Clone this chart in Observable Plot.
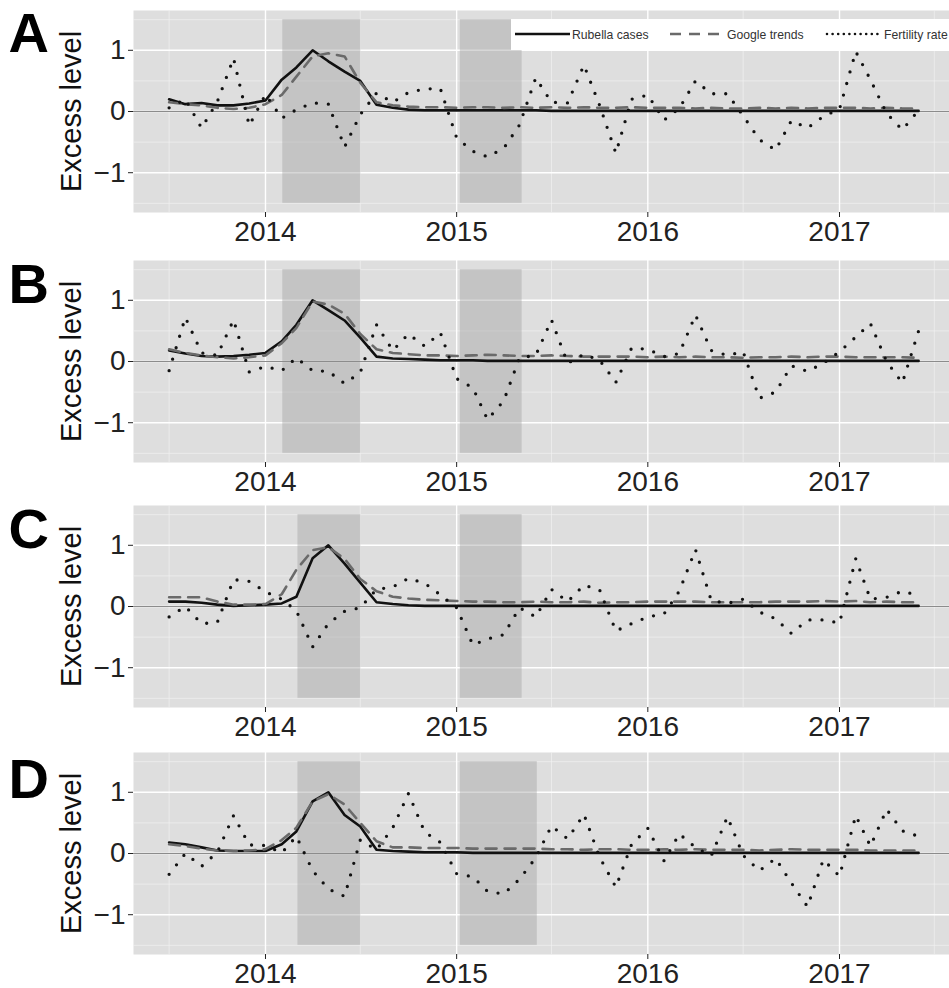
<!DOCTYPE html>
<html>
<head>
<meta charset="utf-8">
<script src="https://cdn.jsdelivr.net/npm/d3@7"></script>
<script src="https://cdn.jsdelivr.net/npm/@observablehq/plot@0.6"></script>
<style>
  html, body { margin: 0; padding: 0; background: #fff; overflow: hidden; width: 949px; height: 988px; }
  #wrap { position: relative; width: 949px; height: 988px; overflow: hidden; }
  .panel { position: absolute; left: 0; }
  #legend { position: absolute; left: 511px; top: 19px; width: 460px; height: 31px; background: #fff; }
</style>
</head>
<body>
<div id="wrap"></div>
<script>
// ---------- data ----------
const firstMonth = "2013-07-01";
const lastMonthExclusive = "2017-07-01";
const yearTicks = ["2014-01-01", "2015-01-01", "2016-01-01", "2017-01-01"];
const halfYearTicks = ["2013-07-01", "2014-07-01", "2015-07-01", "2016-07-01", "2017-07-01"];
const xDomain = ["2013-04-24", "2017-07-30"];
const yMajor = [-1, 0, 1];
const yMinor = [-1.5, -0.5, 0.5, 1.5];
const seriesNames = ["Rubella cases", "Google trends", "Fertility rate"];
const panelLabels = ["A", "B", "C", "D"];

const rubellaA = [0.20,0.12,0.14,0.10,0.10,0.13,0.18,0.52,0.72,1.00,0.82,0.65,0.50,0.11,0.06,0.03,0.02,0.02,0.02,0.02,0.02,0.02,0.02,0.02,0.01,0.01,0.01,0.01,0.01,0.01,0.01,0.01,0.01,0.01,0.01,0.01,0.01,0.01,0.01,0.01,0.01,0.01,0.01,0.01,0.01,0.01,0.01,0.01];
const googleA = [0.15,0.12,0.10,0.06,0.04,0.06,0.12,0.27,0.57,0.90,0.95,0.90,0.47,0.15,0.10,0.08,0.07,0.07,0.06,0.07,0.07,0.06,0.07,0.06,0.07,0.06,0.07,0.06,0.06,0.07,0.06,0.06,0.06,0.05,0.06,0.05,0.05,0.06,0.05,0.06,0.05,0.06,0.06,0.06,0.05,0.06,0.05,0.05];
const fertilityA = [0.06,0.20,-0.27,0.16,0.87,-0.23,0.28,-0.11,0.03,0.14,0.12,-0.58,-0.05,0.30,0.15,0.31,0.37,0.37,-0.43,-0.65,-0.74,-0.60,-0.22,0.55,0.15,0.14,0.76,0.10,-0.68,0.20,0.27,-0.14,0.05,0.50,0.29,0.29,-0.07,-0.46,-0.63,-0.15,-0.27,-0.08,0.04,0.98,0.52,-0.03,-0.30,0.02];

const rubellaB = [0.18,0.13,0.09,0.08,0.09,0.11,0.14,0.33,0.60,1.00,0.84,0.67,0.39,0.08,0.05,0.04,0.03,0.02,0.02,0.02,0.01,0.01,0.01,0.01,0.01,0.01,0.01,0.01,0.01,0.01,0.01,0.01,0.01,0.01,0.01,0.01,0.01,0.01,0.01,0.01,0.01,0.01,0.01,0.01,0.01,0.01,0.01,0.01];
const googleB = [0.20,0.14,0.10,0.07,0.05,0.07,0.10,0.30,0.55,0.98,0.93,0.78,0.45,0.20,0.14,0.12,0.10,0.10,0.09,0.10,0.11,0.10,0.09,0.09,0.10,0.09,0.08,0.08,0.08,0.08,0.07,0.08,0.07,0.08,0.07,0.07,0.06,0.07,0.07,0.08,0.07,0.08,0.08,0.07,0.07,0.07,0.07,0.06];
const fertilityB = [-0.15,0.72,0.14,0.10,0.68,-0.17,-0.08,-0.15,0.06,-0.15,-0.16,-0.36,-0.18,0.60,0.18,0.45,0.25,0.47,-0.28,-0.43,-0.95,-0.64,0.06,0.10,0.68,-0.03,0.12,0.02,-0.34,0.22,0.20,0.08,0.13,0.76,0.18,0.10,0.16,-0.60,-0.50,-0.07,-0.16,-0.03,0.16,0.40,0.62,0.00,-0.35,0.50];

const rubellaC = [0.08,0.08,0.06,0.03,0.01,0.02,0.03,0.05,0.16,0.79,1.00,0.70,0.39,0.07,0.04,0.02,0.01,0.01,0.01,0.01,0.01,0.01,0.01,0.01,0.01,0.01,0.01,0.01,0.01,0.01,0.01,0.01,0.01,0.01,0.01,0.01,0.01,0.01,0.01,0.01,0.01,0.01,0.01,0.01,0.01,0.01,0.01,0.01];
const googleC = [0.15,0.15,0.15,0.08,0.03,0.03,0.04,0.20,0.60,0.92,0.97,0.78,0.45,0.25,0.16,0.13,0.11,0.10,0.09,0.08,0.08,0.07,0.07,0.08,0.07,0.07,0.08,0.06,0.07,0.07,0.08,0.08,0.08,0.08,0.07,0.07,0.07,0.07,0.08,0.08,0.08,0.09,0.08,0.09,0.07,0.08,0.07,0.07];
const fertilityC = [-0.17,0.00,-0.28,-0.26,0.44,0.41,0.24,0.12,-0.07,-0.66,-0.28,-0.08,-0.02,0.28,0.32,0.46,0.38,0.19,-0.02,-0.63,-0.53,-0.46,-0.02,-0.17,0.28,0.08,0.35,0.27,-0.40,-0.28,-0.17,-0.12,0.25,0.93,0.10,0.05,0.12,-0.09,-0.20,-0.44,-0.22,-0.22,-0.27,0.78,0.12,0.15,0.25,0.18];

const rubellaD = [0.18,0.15,0.10,0.05,0.04,0.04,0.04,0.15,0.36,0.85,1.00,0.63,0.44,0.06,0.04,0.03,0.02,0.02,0.02,0.01,0.01,0.01,0.01,0.01,0.01,0.01,0.01,0.01,0.01,0.01,0.01,0.01,0.01,0.01,0.01,0.01,0.01,0.01,0.01,0.01,0.01,0.01,0.01,0.01,0.01,0.01,0.01,0.01];
const googleD = [0.15,0.12,0.08,0.05,0.04,0.05,0.07,0.22,0.42,0.85,0.97,0.80,0.50,0.20,0.10,0.10,0.09,0.09,0.09,0.08,0.08,0.08,0.08,0.08,0.07,0.07,0.06,0.07,0.07,0.06,0.06,0.07,0.06,0.07,0.06,0.06,0.06,0.05,0.06,0.07,0.06,0.06,0.06,0.06,0.05,0.05,0.05,0.05];
const fertilityD = [-0.34,0.00,-0.21,0.02,0.62,0.14,0.13,0.01,0.28,-0.28,-0.58,-0.70,0.22,0.06,0.42,0.98,0.35,0.18,-0.33,-0.38,-0.62,-0.66,-0.42,-0.07,0.45,0.24,0.64,-0.06,-0.55,0.15,0.41,-0.12,0.32,0.10,-0.04,0.60,-0.03,-0.28,-0.08,-0.48,-0.87,-0.10,-0.37,0.62,0.12,0.72,0.37,0.28];

// shaded periods (start, end) per panel
const shadeA = [["2014-02-03", "2014-07-02"], ["2015-01-08", "2015-05-06"]];
const shadeB = [["2014-02-03", "2014-07-02"], ["2015-01-08", "2015-05-06"]];
const shadeC = [["2014-03-04", "2014-07-02"], ["2015-01-08", "2015-05-06"]];
const shadeD = [["2014-03-04", "2014-07-02"], ["2015-01-08", "2015-06-04"]];
const shadeLimits = [-1.5, 1.5];

// ---------- drawing ----------
const months = d3.utcMonths(new Date(firstMonth), new Date(lastMonthExclusive));
const FONT = "'Liberation Sans', Arial, Helvetica, sans-serif";
const wrap = document.getElementById("wrap");
const yFormat = d => (d < 0 ? "\u2212" : "") + Math.abs(d);

const panels = [
  {label: panelLabels[0], rubella: rubellaA, google: googleA, fertility: fertilityA, shade: shadeA, top: 0, letterDy: 2},
  {label: panelLabels[1], rubella: rubellaB, google: googleB, fertility: fertilityB, shade: shadeB, top: 250, letterDy: 3},
  {label: panelLabels[2], rubella: rubellaC, google: googleC, fertility: fertilityC, shade: shadeC, top: 495, letterDy: 3},
  {label: panelLabels[3], rubella: rubellaD, google: googleD, fertility: fertilityD, shade: shadeD, top: 742, letterDy: 6}
];

for (const p of panels) {
  const rows = months.map((d, i) => ({date: d, rubella: p.rubella[i], google: p.google[i], fertility: p.fertility[i]}));
  const rects = p.shade.map(([a, b]) => ({x1: new Date(a), x2: new Date(b), y1: shadeLimits[0], y2: shadeLimits[1]}));
  const svg = Plot.plot({
    width: 949,
    height: 247,
    marginTop: 10,
    marginBottom: 35,
    marginLeft: 133,
    marginRight: 0,
    style: {fontFamily: FONT, background: "transparent", overflow: "visible"},
    x: {type: "utc", domain: xDomain.map(d => new Date(d))},
    y: {domain: [-1.65, 1.65]},
    marks: [
      Plot.frame({fill: "#dedede", stroke: null}),
      Plot.ruleY(yMinor, {stroke: "#f0f0f0", strokeWidth: 0.7}),
      Plot.ruleX(halfYearTicks.map(d => new Date(d)), {stroke: "#f0f0f0", strokeWidth: 0.7}),
      Plot.ruleY(yMajor, {stroke: "#ffffff", strokeWidth: 1.4}),
      Plot.ruleX(yearTicks.map(d => new Date(d)), {stroke: "#ffffff", strokeWidth: 1.4}),
      Plot.rect(rects, {x1: "x1", x2: "x2", y1: "y1", y2: "y2", fill: "#a0a0a0", fillOpacity: 0.42}),
      Plot.ruleY([0], {stroke: "#8c8c8c", strokeWidth: 1.1}),
      Plot.line(rows, {x: "date", y: "rubella", stroke: "#111", strokeWidth: 2.6}),
      Plot.line(rows, {x: "date", y: "google", stroke: "#6a6a6a", strokeWidth: 2.6, strokeDasharray: "11,8"}),
      Plot.line(rows, {x: "date", y: "fertility", stroke: "#111", strokeWidth: 3.3, strokeDasharray: "0,12", strokeLinecap: "round"}),
      Plot.axisX(yearTicks.map(d => new Date(d)), {tickFormat: "%Y", fontSize: 28, tickSize: 5, tickPadding: 4, color: "#222", label: null}),
      Plot.axisY(yMajor, {tickFormat: yFormat, fontSize: 28, tickSize: 5, tickPadding: 3, color: "#222", label: null}),
      Plot.text(["Excess level"], {text: d => d, frameAnchor: "left", rotate: -90, dx: -62, fontSize: 29, lineAnchor: "middle", textAnchor: "middle", fill: "#111"}),
      Plot.text([p.label], {text: d => d, frameAnchor: "top-left", dx: -125, dy: p.letterDy, fontSize: 56, fontWeight: "bold", lineAnchor: "top", textAnchor: "start", fill: "#000"})
    ]
  });
  svg.classList.add("panel");
  svg.style.top = p.top + "px";
  wrap.appendChild(svg);
}

// ---------- legend (inside panel A) ----------
const legend = d3.select(wrap).append("div").attr("id", "legend");
const lsvg = legend.append("svg").attr("width", 460).attr("height", 31).style("font-family", FONT);
const keys = [
  {name: seriesNames[0], x: 4, stroke: "#111", width: 2.6, dash: null, cap: "butt"},
  {name: seriesNames[1], x: 159, stroke: "#6a6a6a", width: 2.6, dash: "11,8", cap: "butt"},
  {name: seriesNames[2], x: 316, stroke: "#111", width: 2.6, dash: "0,5.6", cap: "round"}
];
for (const k of keys) {
  lsvg.append("line").attr("x1", k.x).attr("x2", k.x + 55).attr("y1", 15).attr("y2", 15)
    .attr("stroke", k.stroke).attr("stroke-width", k.width)
    .attr("stroke-dasharray", k.dash).attr("stroke-linecap", k.cap);
  lsvg.append("text").attr("x", k.x + 57).attr("y", 19.5).attr("font-size", 12.2).attr("fill", "#333").text(k.name);
}
</script>
</body>
</html>
